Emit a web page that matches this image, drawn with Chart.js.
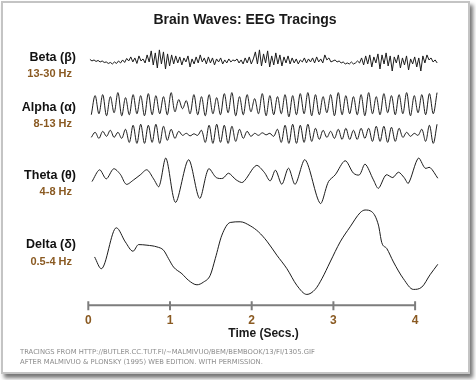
<!DOCTYPE html>
<html><head><meta charset="utf-8">
<script src="https://cdn.jsdelivr.net/npm/chart.js@4"></script>
<style>
html,body{margin:0;padding:0;background:#fff;}
#wrap{position:relative;width:476px;height:380px;overflow:hidden;background:#fff;}
#frame{position:absolute;left:1px;top:1px;width:465px;height:369px;border:2px solid #c4c4c4;background:#fff;box-shadow:3px 4px 4px rgba(0,0,0,0.55);}
canvas{position:absolute;left:0;top:0;}
</style></head>
<body><div id="wrap"><div id="frame"></div><canvas id="c" width="476" height="380"></canvas></div>
<script>
// ---- data ----
const waveNames = ['Beta (\u03B2)', 'Alpha (\u03B1)', 'Theta (\u03B8)', 'Delta (\u03B4)'];
const waveBands = ['13-30 Hz', '8-13 Hz', '4-8 Hz', '0.5-4 Hz'];
const timeTicks = [0, 1, 2, 3, 4];
const footerLines = ['TRACINGS FROM HTTP://BUTLER.CC.TUT.FI/~MALMIVUO/BEM/BEMBOOK/13/FI/1305.GIF',
                     'AFTER MALMIVUO & PLONSKY (1995) WEB EDITION. WITH PERMISSION.'];

// beta: sampled every 25 ms starting at 0.02 s
const betaStart = 0.02, betaStep = 0.025;
const betaValues = [1.5,0,1,-0.5,0.5,-1,0,-1.5,-1,-2.5,-1.5,-3,-1,-2.5,0,-2,1,-1.5,2.5,0,
  4,-1,3,-2.5,5,0,2,-2,6,-1,
  10,-4,8,-7,11,-3,9,-8,7,-5,6,-3,
  5,-2,4,-4,3,-1,5,-6,2,-3,4,-2,6,-1,3,
  -3,4,-2,3,-4,2,-1,3,-3,1,-2,2,-1,1,0,2,-2,1,-3,3,-2,4,-3,2,
  9,-3,11,-5,7,-2,10,-6,5,-4,8,-3,6,-5,4,-2,5,
  -3,3,-2,2,-3,1,-1,3,-2,2,-1,3,-2,4,-1,
  2,-2,6,1,3,-1,0,
  1,-1,0,-2,-1,-3,-2,-3,-1,-3,-2,0,-2,
  3,-4,5,-3,6,-6,4,-2,7,-8,6,-3,8,-5,5,-10,4,-2,6,-7,3,-4,5,-9,2,-3,4,-6,3,-10,5,-2,6,1,
  3,-1,1,-2];

// alpha: half-cycle samples (trough/peak) every 46.5 ms from 0.037 s
const alphaStart = 0.037, alphaStep = 0.0465;
const alpha1Values = [-10,9,-9,10,-11,8,-8,12,-11,7,-10,10,-9,9,-11,11,-10,9,-9,8,
  -10,12,-7,5,-4,4,-9,10,-10,8,-11,10,-9,7,-10,11,-8,12,-11,8,
  -10,10,-7,6,-9,11,-11,9,-10,8,-9,10,-12,9,-10,11,-9,12,-11,10,
  -10,8,-8,10,-11,12,-10,9,-9,8,-10,10,-11,12,-9,8,-10,11,-8,9,
  -10,10,-9,12,-11,9,-8,10,-10,11,-9,12];
const alpha2Values = [-3,2,-4,3,-2,4,-3,2,-4,5,
  -8,9,-9,10,-9,9,-8,10,-9,8,
  -6,5,-4,3,
  -1,1,-1.5,0.5,-1,
  4,-8,9,-9,10,-8,9,-9,8,
  -7,5,-4,3,-2,
  1,-1,1.5,-0.5,1,-2,
  5,-8,9,-9,10,-9,9,-8,10,-7,
  6,-5,4,-3,3,
  -4,5,-5,6,-5,4,-5,6,-4,
  6,-7,8,-7,8,-8,7,-7,6,
  -3,2,-2,1,-1,
  5,-7,9,-9,10];

// theta and delta: [time s, amplitude]
const thetaPoints = [[0.045,-5],[0.138,6.7],[0.220,-2.3],[0.310,7.7],[0.391,2.3],[0.465,-7.7],[0.555,-3.3],
  [0.636,1.7],[0.718,6.7],[0.799,-2.3],[0.865,-10],[0.950,18.3],[1.068,-25.7],[1.227,16.7],[1.362,-21.7],
  [1.472,7.7],[1.566,-1],[1.648,-1.7],[1.716,3.3],[1.810,-3.3],[1.892,-5.7],[2.055,11],[2.153,4.3],
  [2.226,-4.3],[2.291,6.3],[2.369,-7.7],[2.450,8.3],[2.532,-7.7],[2.654,16.7],[2.838,-26.7],[2.940,-5],
  [3.022,1.7],[3.144,15.7],[3.246,3.3],[3.319,1.7],[3.388,12.3],[3.490,-3.3],[3.551,-11.7],[3.645,1.7],
  [3.727,-1],[3.796,4.3],[3.865,-1],[3.918,-6.7],[4.040,18.3],[4.122,8.3],[4.183,9],[4.278,-1.7]];
const deltaPoints = [[0.077,-5],[0.159,-16.7],[0.343,24],[0.453,10],[0.547,0.7],[0.615,7.3],[0.718,6.7],
  [0.840,5],[0.921,1.7],[0.982,-6.7],[1.043,-15],[1.146,-21.7],[1.227,-28.3],[1.330,-32.7],[1.410,-30],
  [1.492,-23.3],[1.554,-6.7],[1.635,16.7],[1.737,29.3],[1.859,30],[1.982,26],[2.083,20],[2.186,10.7],
  [2.308,-3.3],[2.431,-16.7],[2.553,-33.3],[2.675,-42.3],[2.777,-37.3],[2.859,-26.7],[2.960,-10],
  [3.083,10],[3.205,25],[3.327,39],[3.388,41.7],[3.470,40],[3.551,26.7],[3.592,9.3],[3.654,3.3],
  [3.735,-10],[3.857,-26.7],[3.979,-37.3],[4.082,-35],[4.183,-22.7],[4.278,-12.3]];

// ---- layout (vertical stacking of the traces, in y-scale units) ----
const base = {beta: 243, alpha1: 199.5, alpha2: 170, theta: 128, delta: 53};
const nameY = [246, 197, 129, 60];
const bandY = [230, 180, 113, 43];
const INK = '#1c1c1c', BROWN = '#8a5a22';
const FONT = '"Liberation Sans", Arial, sans-serif';

function uniform(start, step, vals, b) { return vals.map((v, i) => ({x: start + i * step, y: b + v})); }
function pairs(pts, b) { return pts.map(p => ({x: p[0], y: b + p[1]})); }
function ds(data, tension) {
  return {data, borderColor: INK, borderWidth: 1, pointRadius: 0, tension, fill: false};
}

const deco = {
  id: 'deco',
  afterDraw(chart) {
    const ctx = chart.ctx, xs = chart.scales.x, ys = chart.scales.y;
    const yb = chart.chartArea.bottom;
    ctx.save();
    // time axis line and ticks
    ctx.strokeStyle = '#7d7d7d'; ctx.lineWidth = 2;
    ctx.beginPath();
    ctx.moveTo(xs.getPixelForValue(timeTicks[0]), yb);
    ctx.lineTo(xs.getPixelForValue(timeTicks[timeTicks.length - 1]), yb);
    timeTicks.forEach(t => { const px = xs.getPixelForValue(t); ctx.moveTo(px, yb - 4); ctx.lineTo(px, yb + 5); });
    ctx.stroke();
    // left labels
    ctx.textAlign = 'right'; ctx.textBaseline = 'middle';
    waveNames.forEach((n, i) => {
      ctx.font = 'bold 12.5px ' + FONT; ctx.fillStyle = '#111';
      ctx.fillText(n, 76, ys.getPixelForValue(nameY[i]));
      ctx.font = 'bold 11px ' + FONT; ctx.fillStyle = BROWN;
      ctx.fillText(waveBands[i], 72, ys.getPixelForValue(bandY[i]));
    });
    // footer
    ctx.textAlign = 'left';
    ctx.font = '6.8px "DejaVu Sans", sans-serif'; ctx.fillStyle = '#8c8c8c';
    footerLines.forEach((l, i) => ctx.fillText(l, 20, 352 + i * 10));
    ctx.restore();
  }
};

new Chart(document.getElementById('c'), {
  type: 'line',
  data: {
    datasets: [
      ds(uniform(betaStart, betaStep, betaValues, base.beta), 0),
      ds(uniform(alphaStart, alphaStep, alpha1Values, base.alpha1), 0.35),
      ds(uniform(alphaStart, alphaStep, alpha2Values, base.alpha2), 0.35),
      ds(pairs(thetaPoints, base.theta), 0.3),
      Object.assign(ds(pairs(deltaPoints, base.delta), 0), {cubicInterpolationMode: 'monotone'})
    ]
  },
  options: {
    responsive: false, animation: false,
    layout: {padding: {left: 51.2, right: 37.2, top: 0, bottom: 39}},
    plugins: {
      legend: {display: false}, tooltip: {enabled: false},
      title: {display: true, text: 'Brain Waves: EEG Tracings', color: '#1a1a1a',
        font: {family: FONT, size: 14, weight: 'bold'},
        padding: {top: 12, bottom: 2}}
    },
    scales: {
      x: {
        type: 'linear', min: 0, max: 4.29,
        grid: {display: false, drawTicks: false}, border: {display: false},
        afterBuildTicks: s => { s.ticks = timeTicks.map(v => ({value: v})); },
        ticks: {color: BROWN, padding: 8, maxRotation: 0,
          font: {family: FONT, size: 12, weight: 'bold'}},
        title: {display: true, text: 'Time (Secs.)', color: '#1a1a1a', padding: {top: -9, bottom: 0},
          font: {family: FONT, size: 12, weight: 'bold'}}
      },
      y: {
        min: 0, max: 273,
        grid: {display: false}, border: {display: false}, ticks: {display: false},
        afterFit: s => { s.width = 37.1; }
      }
    }
  },
  plugins: [deco]
});
</script>
</body></html>
